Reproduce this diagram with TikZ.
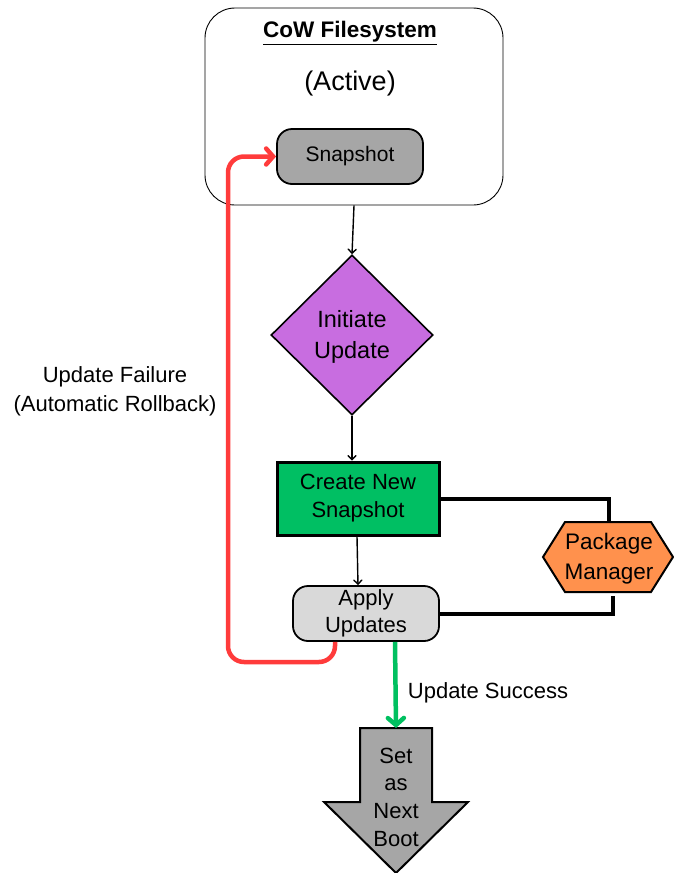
\documentclass[tikz,border=0pt]{standalone}
\usepackage{fontspec}
\setmainfont{Liberation Sans}
\usetikzlibrary{arrows.meta,calc,shapes.geometric}
\definecolor{snapgray}{HTML}{A6A6A6}
\definecolor{lightgr}{HTML}{D9D9D9}
\definecolor{purp}{HTML}{C86DE0}
\definecolor{grn}{HTML}{00BF63}
\definecolor{orng}{HTML}{FF914D}
\definecolor{redl}{HTML}{FF3B3B}
\definecolor{grnl}{HTML}{00C060}
\tikzset{
  txt/.style={font=\fontsize{22}{28}\selectfont, align=center, inner sep=0},
  thinarrow/.style={line width=1.4pt, -{Straight Barb[length=4pt,width=8pt,line cap=round]}},
  thickline/.style={line width=4pt},
}
\begin{document}
\begin{tikzpicture}[x=1pt,y=-1pt]
\useasboundingbox (0,0) rectangle (673,873);
% outer filesystem box
\node[draw, line width=0.9pt, rounded corners=30pt, minimum width=298pt, minimum height=197pt, inner sep=0] (fs) at (354,106.5) {};
\node[txt, font=\bfseries\fontsize{22.5}{25}\selectfont] (title) at (350,33) {\underline{CoW Filesystem}};
\node[txt, font=\fontsize{27}{30}\selectfont] (active) at (350,84) {(Active)};
% snapshot
\node[draw, line width=1.8pt, fill=snapgray, rounded corners=15pt, minimum width=146pt, minimum height=55pt, txt, font=\fontsize{21}{24}\selectfont] (snap) at (350,156.5) {Snapshot};
% diamond
\node[draw, line width=1.6pt, fill=purp, diamond, minimum width=162pt, minimum height=160pt, inner sep=0, txt, font=\fontsize{23.5}{31}\selectfont] (init) at (352,335) {};
\node[txt, font=\fontsize{23.5}{31}\selectfont] (initlbl) at (352,337) {Initiate\\Update};
% create new snapshot
\node[draw, line width=3pt, fill=grn, minimum width=162pt, minimum height=73pt, txt] (cns) at (358,498.5) {Create New\\Snapshot};
% apply updates
\node[draw, line width=1.8pt, fill=lightgr, rounded corners=15pt, minimum width=146pt, minimum height=55pt, txt, font=\fontsize{22}{27}\selectfont] (aps) at (366,613.5) {Apply\\Updates};
% package manager hexagon
\draw[line width=2pt, fill=orng] (543,557) -- (565,522) -- (651,522) -- (673,557) -- (651,592) -- (565,592) -- cycle;
\node[txt, font=\fontsize{22.5}{30}\selectfont, minimum width=130pt, minimum height=70pt] (pm) at (609,559) {Package\\Manager};
% set as next boot arrow shape
\draw[line width=2pt, fill=snapgray] (360,728) -- (432,728) -- (432,802) -- (468,802) -- (396,873) -- (324,802) -- (360,802) -- cycle;
\node[txt, font=\fontsize{22}{27.7}\selectfont, minimum width=72pt, minimum height=74pt] (boot) at (396,797) {Set\\as\\Next\\Boot};
\coordinate (boottop) at (396,728);
% connectors
\draw[thinarrow] (fs.south) -- (init.north);
\draw[thinarrow] (init.south) -- (init.south |- cns.north);
\draw[thinarrow] ([xshift=-1pt]cns.south) -- ([xshift=-8pt]aps.north);
\draw[thickline] (cns.east) -| ([yshift=2pt]pm.north);
\draw[thickline] (aps.east) -| ([xshift=4pt,yshift=-2pt]pm.south);
\draw[line width=4.5pt, redl, rounded corners=16pt, -{Straight Barb[length=7pt,width=16pt,line cap=round]}]
  ([xshift=-31pt]aps.south) |- (228,662) |- (snap.west);
\draw[line width=4.5pt, grnl, -{Straight Barb[length=7pt,width=16pt,line cap=round]}]
  ([xshift=29pt]aps.south) -- (boottop);
% labels
\node[txt] (succ) at (488,693) {Update Success};
\node[txt, font=\fontsize{22}{29}\selectfont] (fail) at (115,391) {Update Failure\\(Automatic Rollback)};
\end{tikzpicture}
\end{document}
